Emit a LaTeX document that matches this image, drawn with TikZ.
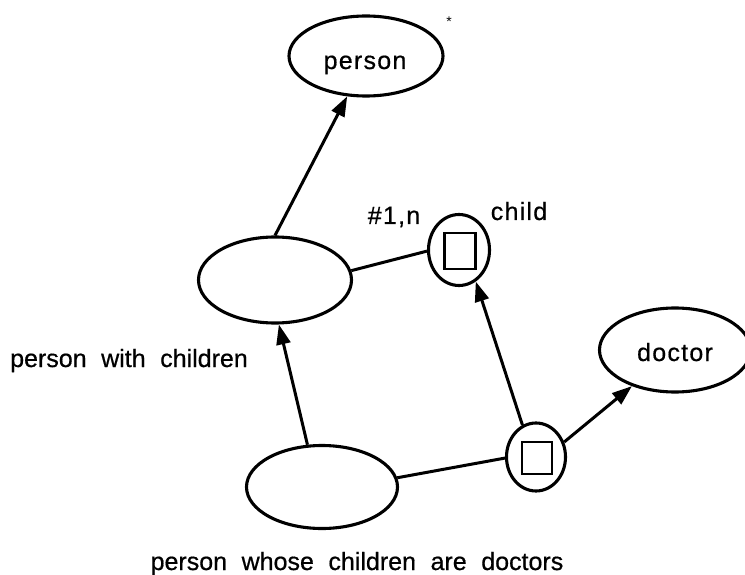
\documentclass[tikz,border=0pt]{standalone}
\usepackage{fontspec}
\setmainfont{Liberation Sans}
% label faces: plain, and a slightly tracked one for the short names
\newfontfamily\lblfont[FakeBold=0.6, WordSpace={2.1,0,0}]{Liberation Sans}
\newfontfamily\namefont[FakeBold=0.6, LetterSpace=5]{Liberation Sans}
\usetikzlibrary{shapes.geometric,arrows.meta}

\tikzset{
  oval/.style={draw, ellipse, line width=3.1pt, inner sep=0pt},
  slot/.style={draw, rectangle, line width=2.9pt, inner sep=0pt},
  lbl/.style={font=\lblfont\fontsize{25}{30}\selectfont,
               inner sep=0pt, anchor=base},
  tagtext/.style={font=\namefont\fontsize{25}{30}\selectfont,
               inner sep=0pt, anchor=base},
  isa/.style={line width=3pt, -{Triangle[length=20pt,width=14pt]}},
  link/.style={line width=3pt},
}

\begin{document}
\begin{tikzpicture}[x=1pt, y=-1pt]
  \useasboundingbox (0,0) rectangle (745,575);
  \clip (0,0) rectangle (745,575);
  \fill[white] (0,0) rectangle (745,575);

  % concept ovals
  \node[oval, minimum width=154pt, minimum height=80pt] (person) at (366,56) {};
  \node[oval, minimum width=153pt, minimum height=86pt] (withkids) at (275,280) {};
  \node[oval, minimum width=151pt, minimum height=83pt] (whosekids) at (322,487) {};
  \node[oval, minimum width=151pt, minimum height=84pt] (doctor) at (675,350) {};

  % role nodes with their value slots
  \node[oval, minimum width=61pt, minimum height=71pt] (childrole) at (459,250) {};
  \node[slot, minimum width=31pt, minimum height=36pt] (childslot) at (460,251) {};
  \node[oval, minimum width=59pt, minimum height=68pt] (docrole) at (536,457) {};
  \node[slot, minimum width=30pt, minimum height=32pt] (docslot) at (537,458) {};

  % texts
  \node[tagtext] (personlbl) at (365,69) {person};
  \node[tagtext] (doctorlbl) at (675,361) {doctor};
  \node[tagtext] (numlbl) at (394,224) {\#1,n};
  \node[tagtext] (childlbl) at (519,220) {child};
  \node[lbl, anchor=base west] (withlbl) at (10,367) {person with children};
  \node[lbl] (whoselbl) at (357,570) {person whose children are doctors};
  \node[font=\fontsize{14}{16}\selectfont, inner sep=0pt] (mark) at (449,22) {*};

  % subsumption arrows
  \draw[isa] (withkids.90) -- (person.245);
  \draw[isa] (whosekids.109) -- (withkids.275);
  \draw[isa] (docrole.113) -- (childrole.298);
  \draw[isa] (docrole.28) -- (doctor.220);

  % role attachments
  \draw[link] (withkids.7) -- (childrole.182);
  \draw[link] (whosekids.7) -- (docrole.182);
\end{tikzpicture}
\end{document}
